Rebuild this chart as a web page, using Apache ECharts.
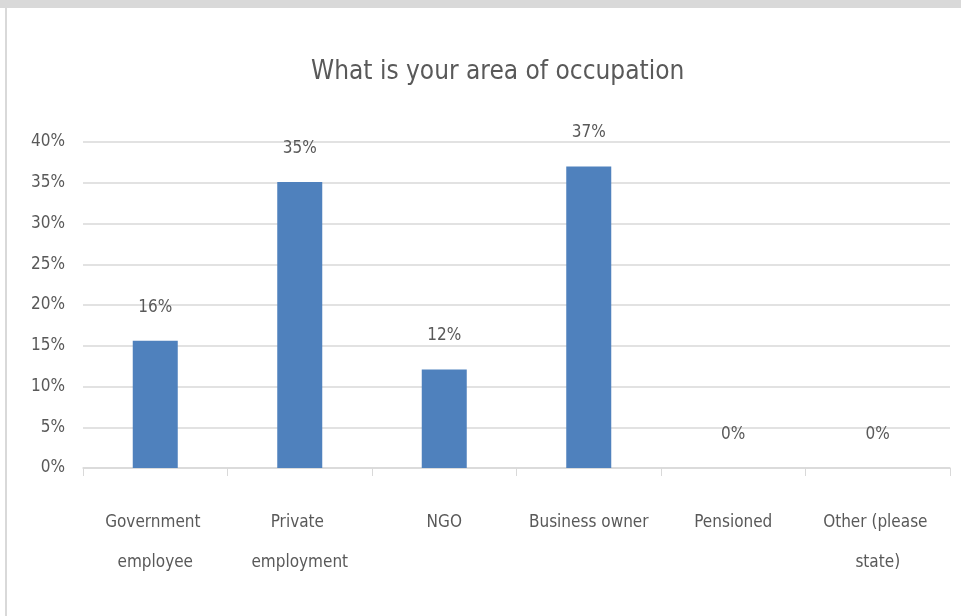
<!DOCTYPE html>
<html>
<head>
<meta charset="utf-8">
<script src="https://cdn.jsdelivr.net/npm/echarts@6/dist/echarts.min.js"></script>
<style>
html,body{margin:0;padding:0;background:#fff;}
#c{width:961px;height:616px;}
</style>
</head>
<body>
<div id="c"></div>
<script>
const title = 'What is your area of occupation';
const categories = ['Government employee', 'Private employment', 'NGO', 'Business owner', 'Pensioned', 'Other (please state)'];
const values = [15.6, 35.1, 12.1, 37.0, 0, 0];
const yTicks = [0, 5, 10, 15, 20, 25, 30, 35, 40];

const FONT = '"DejaVu Sans Condensed", "Liberation Sans", sans-serif';
const chart = echarts.init(document.getElementById('c'), null, {renderer: 'canvas'});
chart.setOption({
  animation: false,
  backgroundColor: '#fff',
  title: {
    text: title, left: 306, top: 54,
    textStyle: {fontFamily: FONT, fontSize: 26, fontWeight: 'normal', color: '#595959'}
  },
  graphic: [
    {type: 'rect', left: 0, top: 0, shape: {width: 961, height: 8}, style: {fill: '#d9d9d9'}, silent: true},
    {type: 'rect', left: 5, top: 8, shape: {width: 2, height: 608}, style: {fill: '#d9d9d9'}, silent: true}
  ],
  grid: {left: 83, right: 11, top: 142, bottom: 148, containLabel: false},
  xAxis: {
    type: 'category', data: categories,
    axisLine: {lineStyle: {color: '#d9d9d9', width: 1.5}},
    axisTick: {show: true, length: 8, alignWithLabel: false, lineStyle: {color: '#d9d9d9'}},
    axisLabel: {
      interval: 0, margin: 35, color: '#595959', fontFamily: FONT, fontSize: 17,
      lineHeight: 40, width: 135, overflow: 'break'
    }
  },
  yAxis: {
    type: 'value', min: yTicks[0], max: yTicks[yTicks.length - 1], interval: 5,
    axisLine: {show: false}, axisTick: {show: false},
    splitLine: {lineStyle: {color: '#d9d9d9', width: 1.5}},
    axisLabel: {margin: 18, color: '#595959', fontFamily: FONT, fontSize: 17, formatter: v => v + '%'}
  },
  series: [{
    type: 'bar', data: values, barWidth: 45,
    itemStyle: {color: '#4f81bd'},
    label: {
      show: true, position: 'top', distance: 25, color: '#595959',
      fontFamily: FONT, fontSize: 17, formatter: p => Math.round(p.value) + '%'
    }
  }]
});
</script>
</body>
</html>
